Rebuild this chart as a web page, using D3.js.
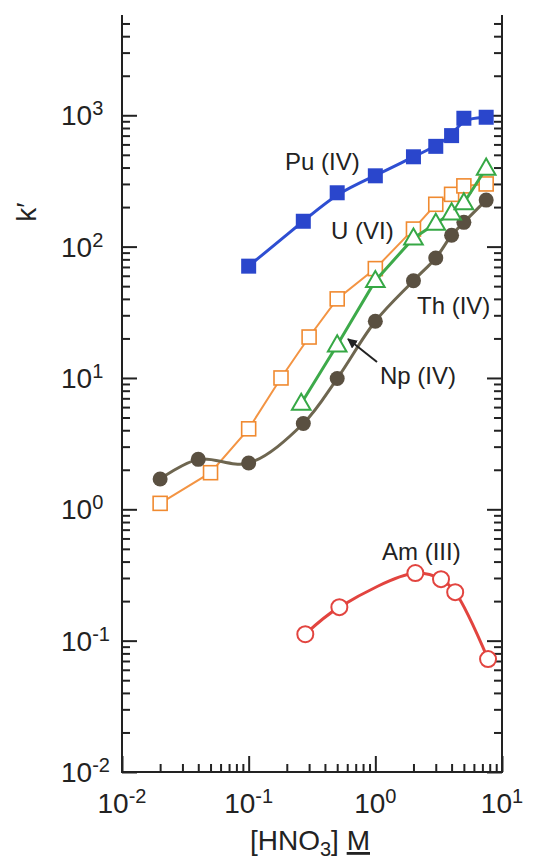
<!DOCTYPE html>
<html>
<head>
<meta charset="utf-8">
<script src="https://cdn.jsdelivr.net/npm/d3@7"></script>
<style>
  body { margin: 0; background: #fff; }
  text { font-family: "Liberation Sans", Arial, Helvetica, sans-serif; fill: #222; }
</style>
</head>
<body>
<svg width="545" height="861"></svg>
<script>
// values: k' vs [HNO3] (M)
const puX = [0.1, 0.27, 0.5, 1, 2, 3, 4, 5, 7.5];
const puK = [71, 156, 257, 346, 483, 580, 700, 949, 966];

const uX = [0.02, 0.05, 0.1, 0.18, 0.3, 0.5, 1, 2, 3, 4, 5, 7.5];
const uK = [1.11, 1.9, 4.1, 10, 20.5, 40, 68, 136, 210, 250, 290, 300];

const npX = [0.26, 0.5, 1, 2, 3, 4, 5, 7.5];
const npK = [6.4, 17.8, 55, 116, 150, 180, 215, 395];

const thX = [0.02, 0.04, 0.1, 0.27, 0.5, 1, 2, 3, 4, 5, 7.5];
const thK = [1.7, 2.4, 2.25, 4.5, 9.9, 27, 55, 82, 122, 153, 226];

const amX = [0.28, 0.52, 2.07, 3.3, 4.27, 7.76];
const amK = [0.112, 0.18, 0.327, 0.294, 0.234, 0.0724];

const xDecades = [0.01, 0.1, 1, 10];
const xExp = ['-2', '-1', '0', '1'];
const yDecades = [0.01, 0.1, 1, 10, 100, 1000];
const yExp = ['-2', '-1', '0', '1', '2', '3'];

const svg = d3.select('svg');
const m = { left: 122, right: 502, top: 15, bottom: 772 };

const x = d3.scaleLog().domain([0.01, 10]).range([m.left, m.right]);
const y = d3.scaleLog().domain([0.01, 5800]).range([m.bottom, m.top]);

const ink = '#222';

function minors(lo, hi) {
  const out = [];
  for (let e = lo; e < hi; e++) {
    for (let k = 2; k <= 9; k++) out.push(k * Math.pow(10, e));
  }
  return out;
}
const yMinor = minors(-2, 4).filter(v => v < 5800);
const xMinor = minors(-2, 1);

function styleAxis(g) {
  g.select('.domain').remove();
  g.selectAll('line').attr('stroke', ink).attr('stroke-width', 2);
}

// left axis ticks (pointing inward)
svg.append('g').attr('transform', `translate(${m.left},0)`)
  .call(d3.axisRight(y).tickValues(yDecades).tickSize(15).tickFormat(''))
  .call(styleAxis);
svg.append('g').attr('transform', `translate(${m.left},0)`)
  .call(d3.axisRight(y).tickValues(yMinor).tickSize(8).tickFormat(''))
  .call(styleAxis);
// right axis ticks
svg.append('g').attr('transform', `translate(${m.right},0)`)
  .call(d3.axisLeft(y).tickValues(yDecades).tickSize(15).tickFormat(''))
  .call(styleAxis);
svg.append('g').attr('transform', `translate(${m.right},0)`)
  .call(d3.axisLeft(y).tickValues(yMinor).tickSize(8).tickFormat(''))
  .call(styleAxis);
// bottom axis ticks
svg.append('g').attr('transform', `translate(0,${m.bottom})`)
  .call(d3.axisTop(x).tickValues(xDecades).tickSize(16).tickFormat(''))
  .call(styleAxis);
svg.append('g').attr('transform', `translate(0,${m.bottom})`)
  .call(d3.axisTop(x).tickValues(xMinor).tickSize(8).tickFormat(''))
  .call(styleAxis);

// frame: left, right, bottom (open at top)
svg.append('path')
  .attr('d', `M${m.left},${m.top}V${m.bottom}H${m.right}V${m.top}`)
  .attr('fill', 'none').attr('stroke', ink).attr('stroke-width', 2);

// y tick labels
const yl = svg.append('g');
yDecades.forEach((v, i) => {
  const t = yl.append('text').attr('x', 61).attr('y', y(v) + 10)
    .attr('font-size', 28);
  t.append('tspan').text('10');
  t.append('tspan').attr('dy', -10).attr('font-size', 20).text(yExp[i]);
});

// x tick labels
const xl = svg.append('g');
xDecades.forEach((v, i) => {
  const t = xl.append('text').attr('x', x(v)).attr('y', 813)
    .attr('text-anchor', 'middle').attr('font-size', 28);
  t.append('tspan').text('10');
  t.append('tspan').attr('dy', -10).attr('font-size', 20).text(xExp[i]);
});

// axis titles
const xt = svg.append('text').attr('x', 310).attr('y', 850)
  .attr('text-anchor', 'middle').attr('font-size', 28);
xt.append('tspan').text('[HNO');
xt.append('tspan').attr('dy', 6).attr('font-size', 20).text('3');
xt.append('tspan').attr('dy', -6).text('] ');
xt.append('tspan').attr('text-decoration', 'underline').text('M');

svg.append('text')
  .attr('transform', 'translate(36,212) rotate(-90)')
  .attr('text-anchor', 'middle').attr('font-size', 28)
  .text('k\u2032');

// series
const line = (curve) => d3.line().x(d => x(d[0])).y(d => y(d[1])).curve(curve);
const zip = (a, b) => a.map((v, i) => [v, b[i]]);

const uData = zip(uX, uK);
const thData = zip(thX, thK);
const npData = zip(npX, npK);
const puData = zip(puX, puK);
const amData = zip(amX, amK);

const plot = svg.append('g');

// U (VI)
plot.append('path').datum(uData)
  .attr('d', line(d3.curveLinear))
  .attr('fill', 'none').attr('stroke', '#f39443').attr('stroke-width', 2);
plot.selectAll('.u').data(uData).join('rect')
  .attr('x', d => x(d[0]) - 7).attr('y', d => y(d[1]) - 7)
  .attr('width', 14).attr('height', 14)
  .attr('fill', '#fff').attr('stroke', '#f08a30').attr('stroke-width', 1.6);

// Th (IV)
plot.append('path').datum(thData)
  .attr('d', line(d3.curveCatmullRom.alpha(0.5)))
  .attr('fill', 'none').attr('stroke', '#6e6650').attr('stroke-width', 3);
plot.selectAll('.th').data(thData).join('circle')
  .attr('cx', d => x(d[0])).attr('cy', d => y(d[1])).attr('r', 7.5)
  .attr('fill', '#5a5041');

// Np (IV)
plot.append('path').datum(npData)
  .attr('d', line(d3.curveLinear))
  .attr('fill', 'none').attr('stroke', '#3daa4a').attr('stroke-width', 3);
const tri = d3.symbol().type(d3.symbolTriangle).size(150);
plot.selectAll('.np').data(npData).join('path')
  .attr('transform', d => `translate(${x(d[0])},${y(d[1]) + 1})`)
  .attr('d', tri)
  .attr('fill', '#fff').attr('stroke', '#36a845').attr('stroke-width', 2);

// Pu (IV)
plot.append('path').datum(puData)
  .attr('d', line(d3.curveBasis))
  .attr('fill', 'none').attr('stroke', '#2e4ed2').attr('stroke-width', 3);
plot.selectAll('.pu').data(puData).join('rect')
  .attr('x', d => x(d[0]) - 7.5).attr('y', d => y(d[1]) - 7.5)
  .attr('width', 15).attr('height', 15)
  .attr('fill', '#2a46cc');

// Am (III)
plot.append('path').datum(amData)
  .attr('d', line(d3.curveCatmullRom.alpha(0.5)))
  .attr('fill', 'none').attr('stroke', '#e2443f').attr('stroke-width', 3);
plot.selectAll('.am').data(amData).join('circle')
  .attr('cx', d => x(d[0])).attr('cy', d => y(d[1])).attr('r', 8)
  .attr('fill', '#fff').attr('stroke', '#e2443f').attr('stroke-width', 2);

// series labels
const labels = [
  { t: 'Pu (IV)', x: 285, y: 170 },
  { t: 'U (VI)', x: 331, y: 239 },
  { t: 'Th (IV)', x: 417, y: 314 },
  { t: 'Np (IV)', x: 380, y: 384 },
  { t: 'Am (III)', x: 382, y: 560 }
];
svg.append('g').selectAll('text').data(labels).join('text')
  .attr('x', d => d.x).attr('y', d => d.y)
  .attr('font-size', 24)
  .text(d => d.t);

// arrow to Np curve
svg.append('defs').append('marker')
  .attr('id', 'ah').attr('viewBox', '0 0 10 10')
  .attr('refX', 9).attr('refY', 5)
  .attr('markerWidth', 5).attr('markerHeight', 5)
  .attr('orient', 'auto')
  .append('path').attr('d', 'M0,0L10,5L0,10z').attr('fill', ink);
svg.append('line')
  .attr('x1', 377).attr('y1', 362).attr('x2', 348).attr('y2', 339)
  .attr('stroke', ink).attr('stroke-width', 2)
  .attr('marker-end', 'url(#ah)');
</script>
</body>
</html>
